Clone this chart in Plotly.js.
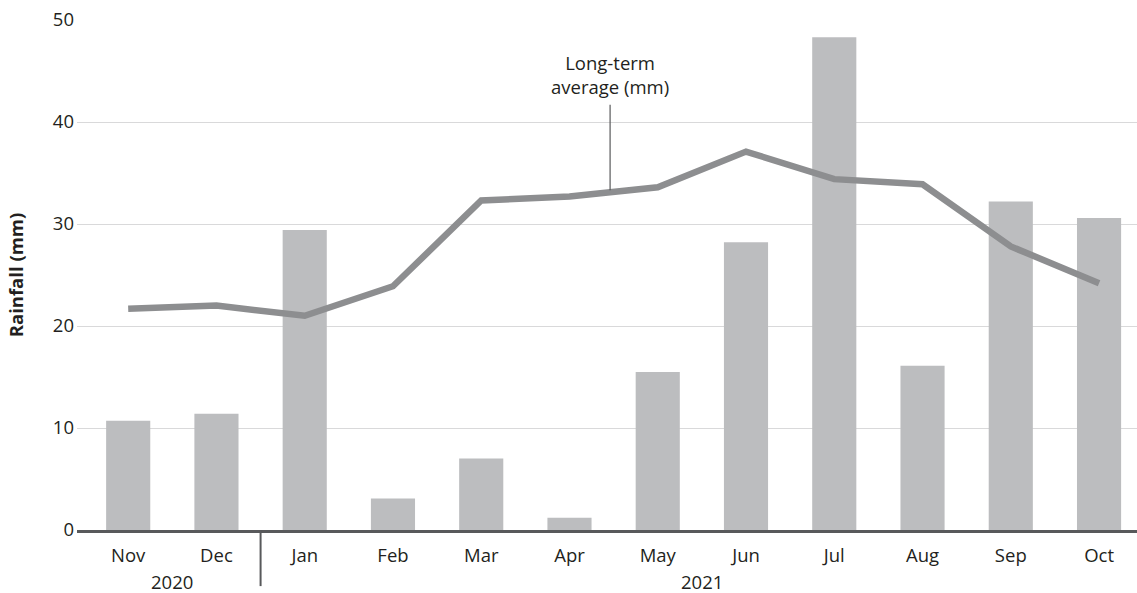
<!DOCTYPE html>
<html>
<head>
<meta charset="utf-8">
<script src="https://cdn.plot.ly/plotly-3.0.1.min.js"></script>
<style>html,body{margin:0;padding:0;background:#fff;}#chart{width:1137px;height:593px;}</style>
</head>
<body>
<div id="chart"></div>
<script>
const months = ["Nov","Dec","Jan","Feb","Mar","Apr","May","Jun","Jul","Aug","Sep","Oct"];
const rainfall = [10.7, 11.4, 29.4, 3.1, 7.0, 1.2, 15.5, 28.2, 48.3, 16.1, 32.2, 30.6];
const longTermAvg = [21.7, 22.0, 21.0, 23.9, 32.3, 32.7, 33.6, 37.1, 34.4, 33.9, 27.8, 24.2];
const yearLabels = ["2020", "2021"];
const yTicks = [0, 10, 20, 30, 40, 50];

const idx = months.map((m, i) => i);
const font = "Open Sans, Noto Sans, sans-serif";

const traces = [
  {type: "bar", x: idx, y: rainfall, width: 0.5, marker: {color: "#bcbdbf"}, hoverinfo: "y"},
  {type: "scatter", mode: "lines", x: idx, y: longTermAvg, line: {color: "#8d8e90", width: 6.5}, hoverinfo: "y"}
];

const layout = {
  width: 1137, height: 593,
  margin: {l: 77, r: 0, t: 20, b: 63},
  paper_bgcolor: "#fff", plot_bgcolor: "#fff",
  showlegend: false,
  font: {family: font, size: 18.5, color: "#231f20"},
  xaxis: {
    range: [-0.58, 11.43], tickvals: idx, ticktext: months,
    showgrid: false, zeroline: false, showline: true, linecolor: "#58595b", linewidth: 2.5,
    ticks: "", ticklabelstandoff: 7, tickfont: {size: 18.5}, fixedrange: true
  },
  yaxis: {
    range: [0, 50], tickvals: yTicks, showgrid: true, gridcolor: "#d9d9da", gridwidth: 1,
    zeroline: false, ticks: "", tickfont: {size: 18.5}, ticklabelstandoff: 2, fixedrange: true,
    title: {text: "<b>Rainfall (mm)</b>", font: {size: 18.5}, standoff: 24}
  },
  shapes: [
    {type: "line", xref: "x", yref: "paper", x0: 1.5, x1: 1.5, y0: 0, y1: -0.11, line: {color: "#58595b", width: 2}},
    {type: "line", xref: "x", yref: "y", x0: 5.46, x1: 5.46, y0: 33.3, y1: 41.7, line: {color: "#58595b", width: 1.2}}
  ],
  annotations: [
    {xref: "x", yref: "paper", x: 0.5, y: 0, yanchor: "middle", yshift: -51, text: yearLabels[0], showarrow: false, font: {size: 18.5}},
    {xref: "x", yref: "paper", x: 6.5, y: 0, yanchor: "middle", yshift: -51, text: yearLabels[1], showarrow: false, font: {size: 18.5}},
    {xref: "x", yref: "y", x: 5.46, y: 41.7, yanchor: "bottom", yshift: 4, text: "Long-term<br>average (mm)", showarrow: false, font: {size: 18.5}}
  ]
};

Plotly.newPlot("chart", traces, layout, {displayModeBar: false, staticPlot: true});
</script>
</body>
</html>
